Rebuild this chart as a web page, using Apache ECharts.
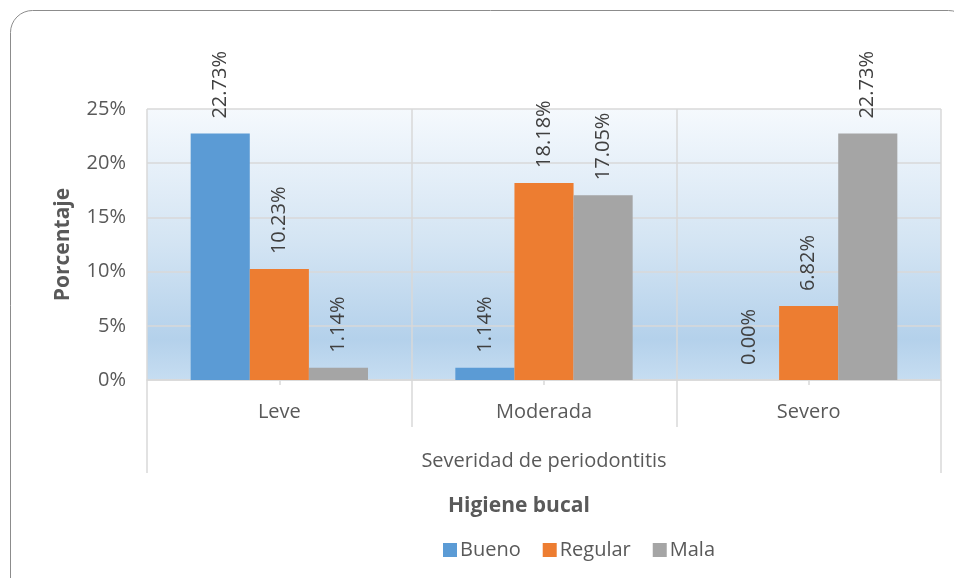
<!DOCTYPE html>
<html><head><meta charset="utf-8">
<script src="https://cdn.jsdelivr.net/npm/echarts@6/dist/echarts.min.js"></script>
<style>html,body{margin:0;padding:0;background:#fff}#c{width:954px;height:578px}</style>
</head><body><div id="c"></div>
<script>
const categories = ['Leve', 'Moderada', 'Severo'];
const bueno = [22.73, 1.14, 0.00];
const regular = [10.23, 18.18, 6.82];
const mala = [1.14, 17.05, 22.73];
const yTicks = [0, 5, 10, 15, 20, 25];
const groupLabel = ['Severidad de periodontitis'];

const FONT = '"Open Sans", sans-serif';
const chart = echarts.init(document.getElementById('c'));
const lbl = {
  show: true, position: 'top', rotate: 90, align: 'left', verticalAlign: 'middle',
  distance: 15, fontSize: 20, color: '#404040', fontFamily: FONT,
  formatter: p => p.value.toFixed(2) + '%'
};
function mk(name, data, color) {
  return { name, type: 'bar', data, barGap: '0%', barCategoryGap: '33%',
    itemStyle: { color }, label: lbl, emphasis: { disabled: true } };
}
chart.setOption({
  animation: false,
  textStyle: { fontFamily: FONT },
  graphic: [{ type: 'rect', shape: { x: 10.5, y: 10.5, width: 960, height: 600, r: 22 },
    style: { fill: 'none', stroke: '#8c8c8c', lineWidth: 1 }, z: -1 }],
  title: { text: 'Higiene bucal', left: 443, top: 491,
    textStyle: { fontSize: 21, fontWeight: 'bold', color: '#595959', fontFamily: FONT } },
  legend: { data: ['Bueno', 'Regular', 'Mala'], left: 438, top: 535, itemWidth: 14, itemHeight: 14,
    itemGap: 22, icon: 'rect', textStyle: { fontSize: 20, color: '#595959', fontFamily: FONT, padding: [0, 0, 0, -2] } },
  grid: { left: 147, right: 13, top: 109, bottom: 198, show: true, borderWidth: 0,
    backgroundColor: new echarts.graphic.LinearGradient(0, 0, 0, 1, [
      { offset: 0, color: '#f5f9fd' },
      { offset: 0.5, color: '#d3e4f3' },
      { offset: 0.85, color: '#b4d1eb' },
      { offset: 1, color: '#c6ddf1' }
    ]) },
  xAxis: [{
    type: 'category', data: categories, position: 'bottom',
    axisLine: { show: true, lineStyle: { color: '#d9d9d9', width: 1.5 } },
    axisTick: { show: true, interval: 0, length: 47, lineStyle: { color: '#d9d9d9', width: 1.5 } },
    axisLabel: { margin: 22, fontSize: 20, color: '#595959', fontFamily: FONT },
    splitLine: { show: true, interval: 0, lineStyle: { color: '#d9d9d9', width: 1.5 } }
  }, {
    type: 'category', data: groupLabel, position: 'bottom', gridIndex: 0,
    axisLine: { show: false },
    axisTick: { show: true, interval: 0, length: 93, lineStyle: { color: '#d9d9d9', width: 1.5 } },
    axisLabel: { margin: 71, fontSize: 20, color: '#595959', fontFamily: FONT },
    splitLine: { show: false }
  }, {
    type: 'category', data: categories, position: 'bottom', gridIndex: 0,
    axisLine: { show: false },
    axisTick: { show: true, alignWithLabel: true, interval: 0, length: 5, lineStyle: { color: '#d9d9d9', width: 1.5 } },
    axisLabel: { show: false },
    splitLine: { show: false }
  }],
  yAxis: {
    type: 'value', min: 0, max: 25, interval: 5,
    name: 'Porcentaje', nameLocation: 'middle', nameGap: 73, nameRotate: 90,
    nameTextStyle: { fontSize: 21, fontWeight: 'bold', color: '#595959', fontFamily: FONT },
    axisLabel: { formatter: v => yTicks.includes(v) ? v + '%' : '', margin: 21, fontSize: 20, color: '#595959', fontFamily: FONT },
    axisLine: { show: false }, axisTick: { show: false },
    splitLine: { lineStyle: { color: '#d9d9d9', width: 1.5 } }
  },
  series: [
    mk('Bueno', bueno, '#5b9bd5'),
    mk('Regular', regular, '#ed7d31'),
    mk('Mala', mala, '#a5a5a5')
  ]
});
</script></body></html>
